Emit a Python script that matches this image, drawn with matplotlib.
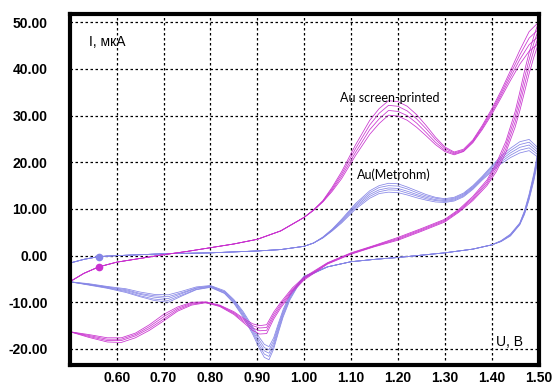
import numpy as np
import matplotlib.pyplot as plt

# potential grids (V)
x_fwd = [0.50, 0.53, 0.562, 0.60, 0.65, 0.70, 0.75, 0.80, 0.85, 0.90, 0.95, 1.00, 1.02,
         1.04, 1.06, 1.08, 1.11, 1.14, 1.16, 1.18, 1.20, 1.22, 1.24, 1.26, 1.28, 1.30,
         1.32, 1.34, 1.36, 1.38, 1.40, 1.42, 1.44, 1.46, 1.48, 1.50]

# Au screen-printed, anodic scan: one row per potential, one column per cycle
sp_fwd = [
    [-5.6, -5.6, -5.6, -5.6],
    [-3.8, -3.8, -3.8, -3.8],
    [-2.4, -2.4, -2.4, -2.4],
    [-1.4, -1.4, -1.4, -1.4],
    [-0.6, -0.6, -0.6, -0.6],
    [0.2, 0.2, 0.2, 0.2],
    [0.9, 0.9, 0.9, 0.9],
    [1.7, 1.7, 1.7, 1.7],
    [2.5, 2.5, 2.5, 2.5],
    [3.5, 3.5, 3.5, 3.5],
    [5.3, 5.3, 5.3, 5.3],
    [8.2, 8.2, 8.2, 8.2],
    [9.7, 9.7, 9.8, 9.8],
    [11.5, 11.6, 11.7, 11.8],
    [13.8, 14.1, 14.4, 14.7],
    [16.5, 17.0, 17.5, 18.0],
    [21.5, 22.2, 23.0, 23.8],
    [26.0, 27.0, 28.0, 29.0],
    [28.3, 29.3, 30.5, 31.5],
    [30.1, 31.1, 32.2, 33.2],
    [29.9, 30.9, 32.0, 33.0],
    [29.0, 30.0, 31.0, 32.0],
    [27.5, 28.4, 29.3, 30.2],
    [25.7, 26.4, 27.2, 27.9],
    [23.8, 24.3, 24.9, 25.4],
    [22.3, 22.6, 23.0, 23.3],
    [21.6, 21.8, 22.0, 22.2],
    [22.3, 22.4, 22.6, 22.8],
    [24.2, 24.4, 24.6, 24.8],
    [27.0, 27.3, 27.6, 27.9],
    [30.2, 30.6, 31.0, 31.4],
    [33.8, 34.3, 34.8, 35.3],
    [37.5, 38.2, 38.9, 39.6],
    [41.0, 42.0, 43.0, 44.0],
    [43.8, 45.2, 46.6, 48.0],
    [45.5, 47.0, 48.5, 50.0],
]

x_sp_rev = [1.50, 1.49, 1.48, 1.47, 1.46, 1.45, 1.43, 1.41, 1.39, 1.36, 1.33, 1.30, 1.25,
            1.20, 1.15, 1.10, 1.05, 1.00, 0.975, 0.95, 0.935, 0.92, 0.905, 0.89, 0.87,
            0.85, 0.82, 0.79, 0.76, 0.73, 0.70, 0.67, 0.64, 0.61, 0.58, 0.54, 0.50]

# Au screen-printed, cathodic scan
sp_rev = [
    [45.5, 47.0, 48.5, 50.0],
    [42.5, 44.0, 45.5, 47.0],
    [39.0, 40.5, 42.0, 43.5],
    [35.0, 36.5, 38.0, 39.5],
    [31.0, 32.3, 33.6, 35.0],
    [27.5, 28.6, 29.7, 30.8],
    [22.0, 22.8, 23.6, 24.4],
    [18.0, 18.6, 19.2, 19.8],
    [15.0, 15.4, 15.8, 16.2],
    [11.8, 12.1, 12.4, 12.7],
    [9.3, 9.5, 9.7, 9.9],
    [7.2, 7.4, 7.6, 7.8],
    [5.2, 5.4, 5.6, 5.8],
    [3.3, 3.5, 3.7, 3.9],
    [1.9, 2.0, 2.1, 2.2],
    [0.3, 0.4, 0.5, 0.6],
    [-1.8, -1.7, -1.6, -1.5],
    [-5.2, -5.0, -4.8, -4.6],
    [-7.8, -7.5, -7.2, -6.9],
    [-11.2, -10.8, -10.4, -10.0],
    [-13.6, -13.1, -12.6, -12.1],
    [-16.7, -16.0, -15.4, -14.8],
    [-16.8, -16.1, -15.5, -15.0],
    [-16.0, -15.5, -15.0, -14.6],
    [-14.3, -14.0, -13.7, -13.4],
    [-12.6, -12.4, -12.2, -12.0],
    [-10.9, -10.8, -10.7, -10.6],
    [-10.1, -10.0, -10.0, -9.9],
    [-10.6, -10.4, -10.2, -10.0],
    [-11.9, -11.6, -11.3, -11.0],
    [-14.0, -13.6, -13.1, -12.6],
    [-16.0, -15.6, -15.2, -14.8],
    [-17.6, -17.2, -16.9, -16.6],
    [-18.6, -18.2, -17.9, -17.6],
    [-18.5, -18.2, -17.9, -17.6],
    [-17.5, -17.3, -17.1, -16.9],
    [-16.3, -16.3, -16.3, -16.3],
]

# Au (Metrohm), anodic scan
me_fwd = [
    [-1.6, -1.6, -1.6, -1.6, -1.6],
    [-0.8, -0.8, -0.8, -0.8, -0.8],
    [-0.2, -0.2, -0.2, -0.2, -0.2],
    [0.0, 0.0, 0.0, 0.0, 0.0],
    [0.2, 0.2, 0.2, 0.2, 0.2],
    [0.4, 0.4, 0.4, 0.4, 0.4],
    [0.5, 0.5, 0.5, 0.5, 0.5],
    [0.6, 0.6, 0.6, 0.6, 0.6],
    [0.8, 0.8, 0.8, 0.8, 0.8],
    [1.0, 1.0, 1.0, 1.0, 1.0],
    [1.3, 1.3, 1.3, 1.3, 1.3],
    [2.0, 2.0, 2.0, 2.0, 2.0],
    [2.7, 2.7, 2.7, 2.7, 2.7],
    [3.8, 3.8, 3.9, 3.9, 4.0],
    [5.3, 5.4, 5.5, 5.6, 5.7],
    [7.0, 7.2, 7.4, 7.6, 7.8],
    [10.0, 10.3, 10.6, 10.9, 11.2],
    [12.3, 12.7, 13.1, 13.5, 13.9],
    [13.3, 13.7, 14.1, 14.6, 15.0],
    [13.6, 14.1, 14.5, 15.0, 15.5],
    [13.5, 14.0, 14.4, 14.9, 15.4],
    [13.0, 13.4, 13.8, 14.3, 14.7],
    [12.4, 12.8, 13.1, 13.5, 13.9],
    [11.9, 12.2, 12.5, 12.8, 13.1],
    [11.5, 11.8, 12.0, 12.3, 12.5],
    [11.4, 11.6, 11.8, 12.0, 12.2],
    [11.7, 11.9, 12.1, 12.3, 12.5],
    [12.6, 12.8, 13.0, 13.2, 13.4],
    [14.2, 14.4, 14.6, 14.8, 15.0],
    [16.2, 16.4, 16.6, 16.8, 17.0],
    [18.0, 18.3, 18.6, 18.9, 19.2],
    [19.7, 20.1, 20.5, 20.9, 21.3],
    [21.0, 21.5, 22.0, 22.5, 23.0],
    [22.0, 22.6, 23.2, 23.8, 24.4],
    [22.5, 23.1, 23.7, 24.3, 24.9],
    [21.0, 21.5, 22.0, 22.5, 23.0],
]

x_me_rev = [1.50, 1.49, 1.48, 1.47, 1.46, 1.44, 1.42, 1.40, 1.36, 1.30, 1.25, 1.20, 1.15,
            1.10, 1.05, 1.00, 0.985, 0.97, 0.955, 0.945, 0.935, 0.925, 0.915, 0.905,
            0.89, 0.87, 0.85, 0.83, 0.80, 0.77, 0.74, 0.71, 0.68, 0.65, 0.62, 0.58,
            0.54, 0.50]

# Au (Metrohm), cathodic scan
me_rev = [
    [21.0, 21.5, 22.0, 22.5, 23.0],
    [16.0, 16.4, 16.8, 17.2, 17.6],
    [12.0, 12.3, 12.6, 12.9, 13.2],
    [8.8, 9.0, 9.2, 9.4, 9.6],
    [6.6, 6.7, 6.8, 6.9, 7.0],
    [4.2, 4.3, 4.4, 4.5, 4.6],
    [3.0, 3.05, 3.1, 3.15, 3.2],
    [2.3, 2.3, 2.3, 2.3, 2.3],
    [1.4, 1.4, 1.4, 1.4, 1.4],
    [0.6, 0.6, 0.6, 0.6, 0.6],
    [0.1, 0.1, 0.1, 0.1, 0.1],
    [-0.4, -0.4, -0.4, -0.4, -0.4],
    [-0.8, -0.8, -0.8, -0.8, -0.8],
    [-1.3, -1.3, -1.3, -1.3, -1.3],
    [-2.4, -2.4, -2.4, -2.4, -2.4],
    [-4.8, -4.7, -4.6, -4.5, -4.4],
    [-6.8, -6.6, -6.5, -6.3, -6.2],
    [-9.4, -9.1, -8.8, -8.5, -8.2],
    [-13.2, -12.8, -12.4, -12.0, -11.6],
    [-16.5, -16.0, -15.5, -15.0, -14.5],
    [-20.0, -19.4, -18.8, -18.2, -17.6],
    [-22.3, -21.6, -20.9, -20.2, -19.5],
    [-21.8, -21.1, -20.4, -19.7, -19.0],
    [-20.0, -19.4, -18.8, -18.2, -17.6],
    [-16.8, -16.4, -16.0, -15.6, -15.2],
    [-13.2, -12.9, -12.6, -12.3, -12.0],
    [-10.2, -10.0, -9.8, -9.6, -9.4],
    [-8.1, -8.0, -7.8, -7.7, -7.5],
    [-6.8, -6.7, -6.6, -6.5, -6.4],
    [-7.3, -7.2, -7.0, -6.9, -6.7],
    [-8.6, -8.4, -8.1, -7.9, -7.6],
    [-10.0, -9.6, -9.2, -8.8, -8.4],
    [-9.6, -9.3, -8.9, -8.6, -8.3],
    [-8.8, -8.6, -8.3, -8.1, -7.8],
    [-7.9, -7.7, -7.5, -7.3, -7.1],
    [-7.0, -6.9, -6.8, -6.7, -6.6],
    [-6.3, -6.2, -6.2, -6.1, -6.0],
    [-5.6, -5.6, -5.6, -5.6, -5.6],
]

# scan start points
start_x = 0.562
start_sp = -2.4
start_me = -0.2

x_ticks = [0.60, 0.70, 0.80, 0.90, 1.00, 1.10, 1.20, 1.30, 1.40, 1.50]
y_ticks = [-20, -10, 0, 10, 20, 30, 40, 50]

c_sp = "#c932cf"
c_me = "#8585e6"

fig = plt.figure(figsize=(5.57, 3.84), dpi=100)
ax = fig.add_axes([0.1253, 0.0495, 0.8415, 0.9128])

sp_fwd = np.array(sp_fwd)
sp_rev = np.array(sp_rev)
me_fwd = np.array(me_fwd)
me_rev = np.array(me_rev)

for k in range(me_fwd.shape[1]):
    ax.plot(x_fwd, me_fwd[:, k], color=c_me, lw=0.55)
    ax.plot(x_me_rev, me_rev[:, k], color=c_me, lw=0.55)
for k in range(sp_fwd.shape[1]):
    ax.plot(x_fwd, sp_fwd[:, k], color=c_sp, lw=0.55)
    ax.plot(x_sp_rev, sp_rev[:, k], color=c_sp, lw=0.55)

ax.plot(start_x, start_me, "o", color=c_me, ms=4.5)
ax.plot(start_x, start_sp, "o", color=c_sp, ms=4.5)

ax.set_xlim(0.5, 1.5)
ax.set_ylim(-23.43, 51.67)
ax.set_xticks(x_ticks)
ax.set_yticks(y_ticks)
ax.set_xticklabels(["{:.2f}".format(v) for v in x_ticks], fontsize=10,
                   fontweight="bold", family="Liberation Sans")
ax.set_yticklabels(["{:.2f}".format(v) for v in y_ticks], fontsize=10,
                   fontweight="bold", family="Liberation Sans")
ax.tick_params(axis="both", length=0)
ax.tick_params(axis="y", pad=16)
ax.tick_params(axis="x", pad=4)
ax.grid(True, color="black", linestyle=(0, (2, 2)), linewidth=0.9)
ax.set_axisbelow(True)
for s in ax.spines.values():
    s.set_linewidth(3)

ax.text(0.54, 45.8, "I, мкА", fontsize=10, family="Liberation Sans", va="center")
ax.text(1.41, -18.6, "U, B", fontsize=10, family="Liberation Sans", va="center")
ax.text(1.077, 33.8, "Au screen-printed", fontsize=9, family="Lato", va="center")
ax.text(1.113, 17.3, "Au(Metrohm)", fontsize=9, family="Lato", va="center")

fig.savefig("out.png", dpi=100)
